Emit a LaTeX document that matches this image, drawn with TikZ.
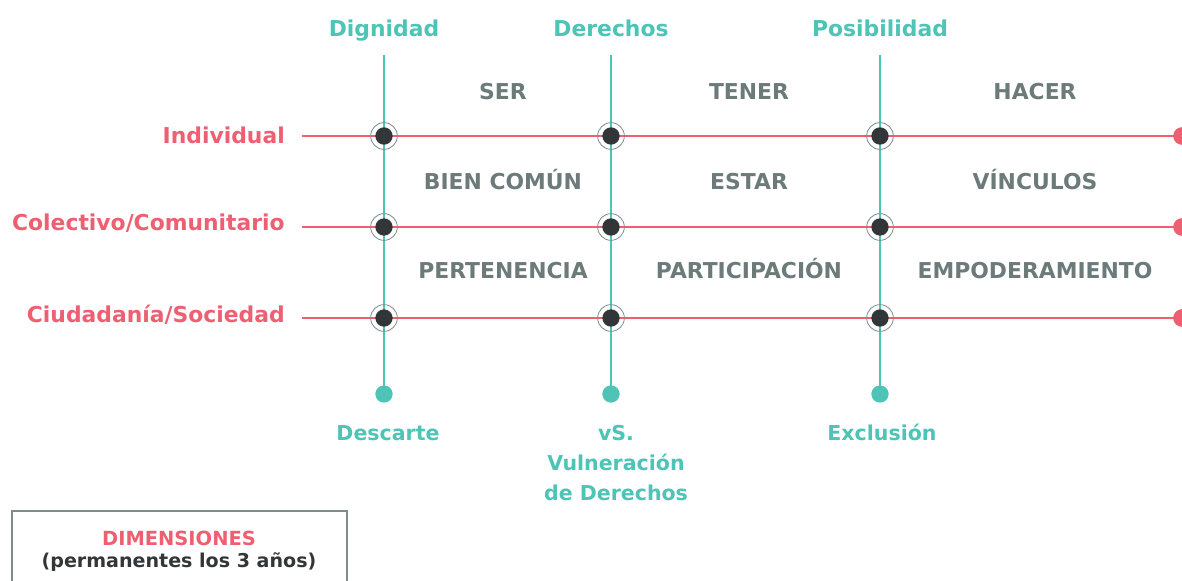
\documentclass[tikz,border=0pt]{standalone}
\usepackage{fontspec}
\setmainfont{DejaVu Sans}
\definecolor{teal}{HTML}{4DC4B6}
\definecolor{pink}{HTML}{EE5F72}
\definecolor{dotc}{HTML}{333638}
\definecolor{cellc}{HTML}{6D7A7A}
\definecolor{ringc}{HTML}{7F8C8C}
\begin{document}
\begin{tikzpicture}[x=0.75pt,y=-0.75pt,
  vline/.style={teal,line width=2.1pt},
  hline/.style={pink,line width=2.1pt},
  tdot/.style={circle,fill=teal,inner sep=0pt,minimum size=13pt},
  pdot/.style={circle,fill=pink,inner sep=0pt,minimum size=13pt},
  xdot/.style={circle,fill=dotc,inner sep=0pt,minimum size=13pt},
  ring/.style={circle,draw=ringc,line width=0.6pt,inner sep=0pt,minimum size=20pt},
  txt/.style={inner sep=0pt,anchor=base,font=\fontsize{16.4}{20}\selectfont\bfseries},
  toplab/.style={txt,teal},
  rowlab/.style={txt,pink,anchor=base east},
  botlab/.style={txt,teal,font=\fontsize{15.4}{20}\selectfont\bfseries},
  cell/.style={txt,cellc}]
\useasboundingbox (0,0) rectangle (1182,581);
% top labels
\node[toplab] (tD) at (384,37) {Dignidad};
\node[toplab] (tR) at (611,37) {Derechos};
\node[toplab] (tP) at (880,37) {Posibilidad};
% row labels
\node[rowlab] (rI) at (285,144) {Individual};
\node[rowlab] (rC) at (285,231) {Colectivo/Comunitario};
\node[rowlab] (rS) at (285,322) {Ciudadanía/Sociedad};
% coordinates
\foreach \n/\x in {A/384,B/611,C/880}{
  \coordinate (\n top) at (\x,55);
  \node[tdot] (\n bot) at (\x,394) {};
}
\foreach \n/\y in {1/136,2/227,3/318}{
  \coordinate (L\n) at (302,\y);
  \node[pdot] (R\n) at (1182,\y) {};
}
\begin{scope}
\clip (0,0) rectangle (1182,581);
\foreach \n/\y in {1/136,2/227,3/318}{
  \draw[hline] (L\n) -- (R\n.center);
  \node[pdot] at (R\n) {};
}
\end{scope}
\foreach \n in {A,B,C}{
  \draw[vline] (\n top) -- (\n bot.center);
}
% intersections
\foreach \n/\x in {A/384,B/611,C/880}{
  \foreach \m/\y in {1/136,2/227,3/318}{
    \node[ring] (ring\n\m) at (\x,\y) {};
    \node[xdot] (x\n\m) at (\x,\y) {};
  }
}
% cells
\node[cell] (c11) at (503,100) {SER};
\node[cell] (c12) at (749,100) {TENER};
\node[cell] (c13) at (1035,100) {HACER};
\node[cell] (c21) at (503,190) {BIEN COMÚN};
\node[cell] (c22) at (749,190) {ESTAR};
\node[cell] (c23) at (1035,190) {VÍNCULOS};
\node[cell] (c31) at (503,278) {PERTENENCIA};
\node[cell] (c32) at (749,278) {PARTICIPACIÓN};
\node[cell] (c33) at (1035,278) {EMPODERAMIENTO};
% bottom labels
\node[botlab] (bD) at (388,440) {Descarte};
\node[botlab] (bV1) at (616,440) {vS.};
\node[botlab] (bV2) at (616,470) {Vulneración};
\node[botlab] (bV3) at (616,500) {de Derechos};
\node[botlab] (bE) at (882,440) {Exclusión};
% box
\draw[ringc,line width=1.5pt] (12,590) -- (12,511) -- (347,511) -- (347,590);
\node[txt,pink,font=\fontsize{14.6}{18}\selectfont\bfseries] (dim) at (179,545) {DIMENSIONES};
\node[txt,dotc,font=\fontsize{14.3}{18}\selectfont\bfseries] (perm) at (179,567) {(permanentes los 3 años)};
\end{tikzpicture}
\end{document}
